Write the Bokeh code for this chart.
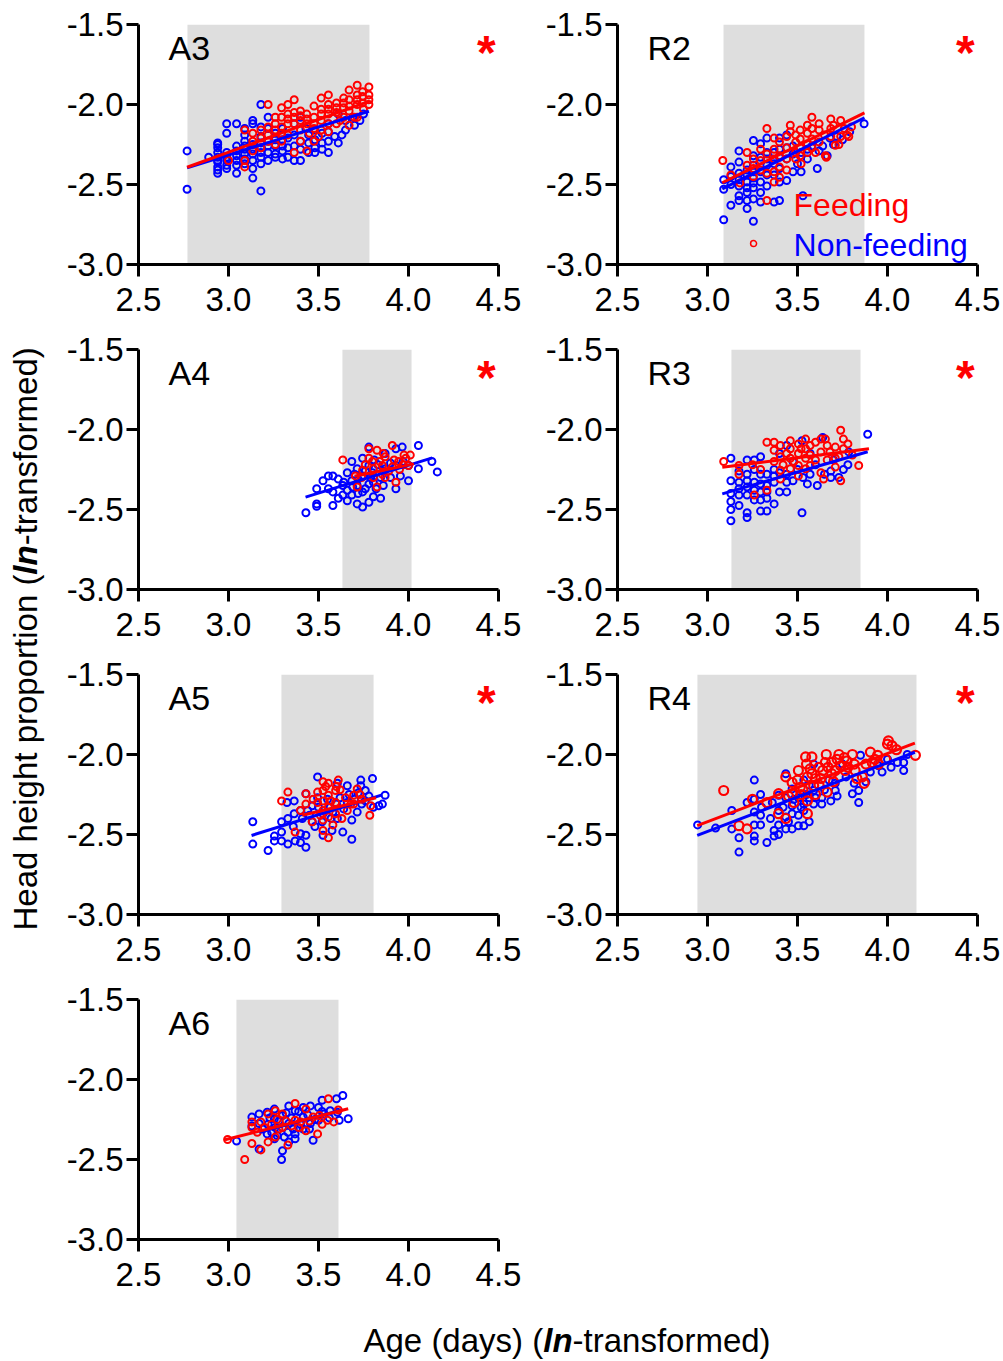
from bokeh.plotting import figure
from bokeh.models import Range1d, Label, FixedTicker, Spacer
from bokeh.layouts import row, column
from bokeh.embed import file_html
from bokeh.resources import INLINE

# ---------------- data ----------------
X_TICKS = [2.5, 3.0, 3.5, 4.0, 4.5]
X_TICK_LABELS = ["2.5", "3.0", "3.5", "4.0", "4.5"]
Y_TICKS = [-3.0, -2.5, -2.0, -1.5]
Y_TICK_LABELS = ["-3.0", "-2.5", "-2.0", "-1.5"]

PANELS = ["A3", "R2", "A4", "R3", "A5", "R4", "A6"]
SIGNIFICANT = [True, True, True, True, True, True, False]

# shaded age window (ln days) per panel
SHADE_A3 = [2.772, 3.783]
SHADE_R2 = [3.089, 3.872]
SHADE_A4 = [3.633, 4.017]
SHADE_R3 = [3.133, 3.850]
SHADE_A5 = [3.294, 3.806]
SHADE_R4 = [2.944, 4.161]
SHADE_A6 = [3.044, 3.611]

# regression lines (x ends, y ends)
A3_FEED_LINE_X, A3_FEED_LINE_Y = [2.77, 3.78], [-2.392, -1.980]
A3_NON_LINE_X, A3_NON_LINE_Y = [2.77, 3.78], [-2.396, -2.042]
R2_FEED_LINE_X, R2_FEED_LINE_Y = [3.082, 3.872], [-2.489, -2.052]
R2_NON_LINE_X, R2_NON_LINE_Y = [3.082, 3.872], [-2.527, -2.083]
A4_FEED_LINE_X, A4_FEED_LINE_Y = [3.70, 4.03], [-2.292, -2.215]
A4_NON_LINE_X, A4_NON_LINE_Y = [3.428, 4.132], [-2.423, -2.177]
R3_FEED_LINE_X, R3_FEED_LINE_Y = [3.082, 3.897], [-2.236, -2.121]
R3_NON_LINE_X, R3_NON_LINE_Y = [3.082, 3.890], [-2.402, -2.139]
A5_FEED_LINE_X, A5_FEED_LINE_Y = [3.41, 3.82], [-2.380, -2.270]
A5_NON_LINE_X, A5_NON_LINE_Y = [3.128, 3.854], [-2.506, -2.252]
R4_FEED_LINE_X, R4_FEED_LINE_Y = [2.943, 4.152], [-2.444, -1.929]
R4_NON_LINE_X, R4_NON_LINE_Y = [2.943, 4.152], [-2.506, -1.986]
A6_FEED_LINE_X, A6_FEED_LINE_Y = [2.98, 3.665], [-2.377, -2.183]
A6_NON_LINE_X, A6_NON_LINE_Y = [3.17, 3.63], [-2.330, -2.190]

# individual observations (ln age, ln head height proportion)
A3_NON = [(2.77,-2.29),(2.77,-2.53),(2.89,-2.33),(2.94,-2.24),(2.94,-2.27),(2.94,-2.30),(2.94,-2.33),(2.94,-2.36),(2.94,-2.39),(2.94,-2.41),(2.94,-2.43),
          (2.99,-2.12),(2.99,-2.18),(2.99,-2.30),(2.99,-2.35),(2.99,-2.38),(2.99,-2.40),(3.045,-2.12),(3.045,-2.32),(3.045,-2.35),(3.045,-2.38),(3.045,-2.43),
          (3.09,-2.15),(3.09,-2.19),(3.09,-2.23),(3.09,-2.26),(3.09,-2.31),(3.09,-2.34),(3.09,-2.37),(3.135,-2.10),(3.135,-2.12),(3.135,-2.28),(3.135,-2.31),
          (3.135,-2.35),(3.135,-2.40),(3.135,-2.46),(3.18,-2.00),(3.18,-2.14),(3.18,-2.20),(3.18,-2.27),(3.18,-2.33),(3.18,-2.37),(3.18,-2.54),(3.22,-2.08),
          (3.22,-2.15),(3.22,-2.23),(3.22,-2.30),(3.22,-2.35),(3.26,-2.18),(3.26,-2.26),(3.26,-2.31),(3.26,-2.33),(3.30,-2.15),(3.30,-2.22),(3.30,-2.29),
          (3.30,-2.34),(3.33,-2.27),(3.33,-2.33),(3.365,-2.19),(3.365,-2.35),(3.40,-2.08),(3.40,-2.23),(3.40,-2.35),(3.445,-2.24),(3.445,-2.30),(3.48,-2.16),
          (3.48,-2.22),(3.48,-2.27),(3.52,-2.18),(3.52,-2.24),(3.555,-2.12),(3.555,-2.17),(3.555,-2.23),(3.555,-2.30),(3.61,-2.06),(3.61,-2.24),(3.65,-2.10),
          (3.65,-2.16),(3.69,-2.08),(3.73,-2.10),
          (2.94,-2.25),(2.94,-2.35),(2.99,-2.33),(3.045,-2.29),(3.045,-2.26),(3.09,-2.28),(3.135,-2.25),(3.18,-2.30),(3.18,-2.24),(3.22,-2.26),(3.26,-2.22),
          (3.30,-2.26),(3.33,-2.21),(3.365,-2.26),(3.40,-2.28),(3.445,-2.19),(3.48,-2.30),(3.52,-2.28),(3.59,-2.20),(3.63,-2.19),(3.70,-2.13),(3.75,-2.06),
          (3.365,-2.12),(3.43,-2.15)]
A3_FEED = [(3.00,-2.35),(3.09,-2.16),(3.09,-2.35),(3.09,-2.39),(3.135,-2.18),(3.135,-2.23),(3.135,-2.29),(3.18,-2.16),(3.18,-2.21),(3.18,-2.27),(3.22,-2.00),
           (3.22,-2.14),(3.22,-2.19),(3.22,-2.23),(3.26,-2.08),(3.26,-2.12),(3.26,-2.16),(3.26,-2.21),(3.295,-2.02),(3.295,-2.08),(3.295,-2.14),(3.295,-2.23),
           (3.33,-2.00),(3.33,-2.06),(3.33,-2.12),(3.33,-2.19),(3.365,-1.97),(3.365,-2.05),(3.365,-2.12),(3.365,-2.30),(3.40,-2.04),(3.40,-2.10),(3.40,-2.16),
           (3.40,-2.23),(3.435,-2.06),(3.435,-2.12),(3.435,-2.29),(3.475,-2.01),(3.475,-2.08),(3.475,-2.15),(3.475,-2.23),(3.515,-1.96),(3.515,-2.03),
           (3.515,-2.10),(3.515,-2.16),(3.555,-1.94),(3.555,-2.00),(3.555,-2.06),(3.555,-2.12),(3.555,-2.17),(3.60,-1.99),(3.60,-2.05),(3.60,-2.12),
           (3.64,-1.96),(3.64,-2.02),(3.64,-2.08),(3.67,-1.91),(3.67,-1.97),(3.67,-2.04),(3.67,-2.13),(3.715,-1.88),(3.715,-1.94),(3.715,-2.00),(3.715,-2.08),
           (3.745,-1.92),(3.745,-1.99),(3.78,-1.89),(3.78,-1.94),(3.78,-1.97),
           (3.26,-2.25),(3.295,-2.18),(3.33,-2.09),(3.365,-2.08),(3.40,-2.07),(3.435,-2.09),(3.475,-2.12),(3.515,-2.06),(3.555,-2.03),(3.60,-2.02),(3.64,-1.99),
           (3.67,-2.01),(3.715,-1.97),(3.745,-1.95),(3.78,-2.00),(3.75,-2.03),(3.70,-2.08),(3.62,-2.10),(3.50,-2.20),(3.45,-2.18)]

R2_NON = [(3.09,-2.53),(3.09,-2.72),(3.13,-2.39),(3.13,-2.63),(3.13,-2.50),(3.175,-2.29),(3.175,-2.36),(3.175,-2.43),(3.175,-2.51),(3.175,-2.57),(3.175,-2.60),
          (3.22,-2.41),(3.22,-2.485),(3.22,-2.55),(3.22,-2.60),(3.22,-2.65),(3.255,-2.225),(3.255,-2.32),(3.255,-2.38),(3.255,-2.46),(3.255,-2.52),(3.255,-2.59),
          (3.255,-2.73),(3.295,-2.245),(3.295,-2.485),(3.295,-2.55),(3.295,-2.61),(3.33,-2.21),(3.33,-2.30),(3.33,-2.38),(3.33,-2.44),(3.33,-2.51),(3.37,-2.44),
          (3.37,-2.61),(3.40,-2.21),(3.40,-2.28),(3.40,-2.40),(3.40,-2.485),(3.40,-2.60),(3.44,-2.19),(3.44,-2.34),(3.44,-2.475),(3.475,-2.26),(3.475,-2.42),
          (3.50,-2.37),(3.52,-2.42),(3.53,-2.57),(3.555,-2.28),(3.555,-2.34),(3.61,-2.40),(3.64,-2.26),(3.665,-2.32),(3.68,-2.21),(3.72,-2.20),(3.79,-2.17),(3.87,-2.12),
          (3.175,-2.47),(3.22,-2.44),(3.22,-2.52),(3.255,-2.42),(3.255,-2.49),(3.295,-2.33),(3.295,-2.42),(3.33,-2.34),(3.37,-2.30),(3.37,-2.37),(3.40,-2.33),
          (3.44,-2.27),(3.475,-2.31),(3.52,-2.30),(3.58,-2.26),(3.62,-2.29),(3.70,-2.25),(3.75,-2.22),(3.13,-2.45),(3.09,-2.47)]
R2_FEED = [(3.085,-2.35),(3.18,-2.49),(3.22,-2.30),(3.22,-2.38),(3.255,-2.34),(3.255,-2.40),(3.295,-2.28),(3.295,-2.35),(3.295,-2.41),(3.33,-2.15),(3.33,-2.60),
           (3.37,-2.21),(3.37,-2.28),(3.37,-2.34),(3.37,-2.42),(3.37,-2.485),(3.40,-2.235),(3.40,-2.32),(3.40,-2.39),(3.40,-2.455),(3.44,-2.20),(3.44,-2.27),
           (3.44,-2.34),(3.46,-2.13),(3.46,-2.17),(3.49,-2.235),(3.49,-2.30),(3.49,-2.34),(3.515,-2.16),(3.515,-2.215),(3.515,-2.27),(3.515,-2.32),(3.555,-2.13),
           (3.555,-2.18),(3.555,-2.245),(3.555,-2.30),(3.58,-2.08),(3.58,-2.15),(3.58,-2.215),(3.62,-2.16),(3.62,-2.235),(3.655,-2.32),(3.685,-2.09),(3.685,-2.15),
           (3.685,-2.20),(3.71,-2.255),(3.74,-2.10),(3.74,-2.20),(3.73,-2.25),(3.775,-2.19),(3.785,-2.20),(3.66,-2.33),
           (3.255,-2.45),(3.33,-2.31),(3.33,-2.43),(3.44,-2.41),(3.49,-2.19),(3.52,-2.37),(3.58,-2.27),(3.62,-2.12),(3.65,-2.19),(3.70,-2.13),(3.76,-2.15),
           (3.80,-2.14),(3.60,-2.30),(3.13,-2.44)]

A4_NON = [(3.43,-2.52),(3.49,-2.465),(3.49,-2.48),(3.49,-2.37),(3.525,-2.32),(3.555,-2.37),(3.555,-2.29),(3.58,-2.475),(3.58,-2.29),(3.58,-2.39),(3.61,-2.31),
          (3.61,-2.43),(3.635,-2.35),(3.635,-2.41),(3.66,-2.445),(3.66,-2.27),(3.66,-2.38),(3.685,-2.20),(3.685,-2.32),(3.685,-2.41),(3.715,-2.245),(3.715,-2.35),
          (3.715,-2.465),(3.745,-2.18),(3.745,-2.29),(3.745,-2.39),(3.745,-2.485),(3.78,-2.11),(3.78,-2.225),(3.78,-2.34),(3.78,-2.455),(3.805,-2.33),(3.805,-2.42),
          (3.845,-2.43),(3.845,-2.30),(3.87,-2.15),(3.87,-2.245),(3.93,-2.12),(3.93,-2.37),(3.93,-2.225),(3.965,-2.11),(3.955,-2.29),(4.00,-2.32),(4.00,-2.225),
          (4.055,-2.10),(4.055,-2.245),(4.13,-2.20),(4.16,-2.265),(3.70,-2.28),(3.72,-2.40),(3.76,-2.26),(3.76,-2.37),(3.80,-2.27),(3.82,-2.37),(3.83,-2.22),
          (3.86,-2.35),(3.90,-2.30),(3.90,-2.21),(3.64,-2.33),(3.69,-2.36),(3.72,-2.31),(3.79,-2.30),(3.81,-2.19),(3.86,-2.26),(3.97,-2.20)]
A4_FEED = [(3.635,-2.19),(3.705,-2.29),(3.715,-2.36),(3.745,-2.255),(3.78,-2.12),(3.78,-2.18),(3.805,-2.245),(3.805,-2.30),(3.825,-2.13),(3.825,-2.36),
           (3.855,-2.225),(3.855,-2.28),(3.87,-2.17),(3.87,-2.30),(3.91,-2.10),(3.91,-2.235),(3.945,-2.20),(3.93,-2.33),(3.975,-2.16),(3.985,-2.18),(4.00,-2.225),
           (4.01,-2.16),(3.76,-2.22),(3.84,-2.20),(3.89,-2.26),(3.95,-2.25),(3.80,-2.20),(3.86,-2.15),(3.92,-2.19),(3.97,-2.22),(3.74,-2.30)]

R3_NON = [(3.13,-2.18),(3.13,-2.32),(3.13,-2.40),(3.13,-2.50),(3.13,-2.57),(3.175,-2.26),(3.175,-2.33),(3.175,-2.41),(3.175,-2.475),(3.22,-2.19),(3.22,-2.28),
          (3.22,-2.36),(3.22,-2.41),(3.22,-2.52),(3.22,-2.55),(3.26,-2.19),(3.26,-2.25),(3.26,-2.33),(3.26,-2.44),(3.295,-2.17),(3.295,-2.28),(3.295,-2.34),
          (3.295,-2.39),(3.295,-2.44),(3.295,-2.51),(3.33,-2.28),(3.33,-2.35),(3.33,-2.43),(3.33,-2.51),(3.37,-2.25),(3.37,-2.33),(3.37,-2.465),(3.40,-2.15),
          (3.40,-2.39),(3.44,-2.10),(3.44,-2.28),(3.44,-2.39),(3.475,-2.20),(3.475,-2.32),(3.525,-2.07),(3.525,-2.52),(3.57,-2.15),(3.57,-2.28),(3.555,-2.34),
          (3.61,-2.35),(3.64,-2.05),(3.685,-2.26),(3.685,-2.30),(3.73,-2.30),(3.755,-2.25),(3.785,-2.14),(3.89,-2.03),
          (3.13,-2.45),(3.175,-2.37),(3.22,-2.32),(3.26,-2.38),(3.33,-2.39),(3.37,-2.29),(3.40,-2.27),(3.44,-2.33),(3.50,-2.25),(3.53,-2.30),(3.60,-2.22),
          (3.65,-2.28),(3.70,-2.19),(3.78,-2.22)]
R3_FEED = [(3.09,-2.20),(3.175,-2.225),(3.175,-2.28),(3.26,-2.41),(3.33,-2.08),(3.33,-2.38),(3.295,-2.25),(3.37,-2.08),(3.37,-2.13),(3.37,-2.20),(3.405,-2.10),
           (3.405,-2.17),(3.405,-2.255),(3.405,-2.31),(3.46,-2.07),(3.46,-2.12),(3.46,-2.18),(3.46,-2.245),(3.505,-2.09),(3.505,-2.15),(3.505,-2.225),(3.505,-2.29),
           (3.545,-2.06),(3.545,-2.12),(3.545,-2.18),(3.545,-2.245),(3.57,-2.10),(3.57,-2.16),(3.57,-2.225),(3.63,-2.06),(3.63,-2.14),(3.63,-2.27),(3.655,-2.06),
           (3.665,-2.10),(3.665,-2.19),(3.645,-2.31),(3.71,-2.11),(3.71,-2.18),(3.71,-2.235),(3.74,-2.005),(3.74,-2.32),(3.755,-2.06),(3.755,-2.12),(3.805,-2.16),
           (3.84,-2.225),(3.44,-2.15),(3.48,-2.20),(3.52,-2.12),(3.60,-2.19),(3.60,-2.08),(3.68,-2.14),(3.73,-2.17),(3.78,-2.09),(3.42,-2.22),(3.25,-2.22)]

A5_NON = [(3.135,-2.42),(3.135,-2.56),(3.22,-2.60),(3.255,-2.51),(3.255,-2.54),(3.295,-2.42),(3.295,-2.485),(3.295,-2.54),(3.325,-2.30),(3.33,-2.40),(3.33,-2.56),
          (3.365,-2.29),(3.365,-2.37),(3.37,-2.54),(3.40,-2.35),(3.40,-2.495),(3.40,-2.55),(3.43,-2.245),(3.43,-2.505),(3.43,-2.58),(3.465,-2.32),(3.465,-2.42),
          (3.495,-2.14),(3.495,-2.27),(3.525,-2.37),(3.525,-2.505),(3.565,-2.33),(3.575,-2.475),(3.605,-2.18),(3.605,-2.40),(3.635,-2.485),(3.66,-2.195),(3.66,-2.30),
          (3.685,-2.53),(3.685,-2.41),(3.715,-2.36),(3.735,-2.16),(3.735,-2.195),(3.76,-2.225),(3.76,-2.29),(3.80,-2.15),(3.805,-2.33),(3.835,-2.32),(3.87,-2.255),
          (3.855,-2.31),(3.45,-2.38),(3.50,-2.33),(3.55,-2.28),(3.58,-2.36),(3.62,-2.27),(3.64,-2.34),(3.70,-2.28),(3.74,-2.31),(3.78,-2.26),(3.48,-2.45),
          (3.36,-2.45),(3.41,-2.40),(3.52,-2.42),(3.57,-2.40),(3.60,-2.31),(3.67,-2.25),(3.72,-2.24),(3.44,-2.35)]
A5_FEED = [(3.295,-2.29),(3.33,-2.235),(3.37,-2.485),(3.40,-2.35),(3.43,-2.245),(3.43,-2.31),(3.465,-2.42),(3.495,-2.235),(3.495,-2.30),(3.525,-2.17),(3.525,-2.225),
           (3.525,-2.29),(3.525,-2.35),(3.525,-2.41),(3.525,-2.475),(3.555,-2.52),(3.555,-2.18),(3.555,-2.255),(3.555,-2.33),(3.555,-2.39),(3.595,-2.225),(3.595,-2.30),
           (3.595,-2.37),(3.61,-2.16),(3.63,-2.40),(3.65,-2.27),(3.66,-2.35),(3.695,-2.255),(3.695,-2.31),(3.715,-2.215),(3.785,-2.38),(3.79,-2.32),(3.47,-2.28),
           (3.58,-2.44),(3.62,-2.22),(3.74,-2.28),(3.54,-2.20),(3.51,-2.38),(3.57,-2.29),(3.60,-2.20),(3.68,-2.31),(3.73,-2.25)]

R4_NON = [(2.945,-2.44),(3.045,-2.46),(3.135,-2.35),(3.135,-2.465),(3.175,-2.52),(3.175,-2.61),(3.22,-2.30),(3.26,-2.16),(3.26,-2.28),(3.26,-2.36),(3.26,-2.44),
          (3.26,-2.51),(3.26,-2.54),(3.295,-2.25),(3.295,-2.38),(3.295,-2.44),(3.33,-2.55),(3.36,-2.30),(3.37,-2.475),(3.37,-2.51),(3.395,-2.255),(3.395,-2.35),
          (3.395,-2.44),(3.395,-2.50),(3.435,-2.12),(3.435,-2.27),(3.435,-2.39),(3.435,-2.465),(3.47,-2.215),(3.47,-2.32),(3.47,-2.37),(3.47,-2.465),(3.505,-2.27),
          (3.505,-2.38),(3.505,-2.445),(3.535,-2.16),(3.535,-2.31),(3.535,-2.35),(3.535,-2.445),(3.565,-2.19),(3.565,-2.27),(3.565,-2.42),(3.59,-2.06),(3.59,-2.225),
          (3.59,-2.31),(3.635,-2.27),(3.635,-2.31),(3.675,-2.16),(3.685,-2.29),(3.71,-2.18),(3.71,-2.225),(3.75,-2.06),(3.805,-2.245),(3.815,-2.18),(3.84,-2.225),
          (3.84,-2.30),(3.85,-2.005),(3.905,-2.11),(3.97,-2.11),(4.00,-2.03),(4.055,-2.05),(4.09,-2.05),(4.09,-2.10),(4.11,-2.00),
          (3.30,-2.33),(3.35,-2.40),(3.42,-2.33),(3.45,-2.42),(3.48,-2.28),(3.52,-2.33),(3.55,-2.25),(3.60,-2.27),(3.65,-2.22),(3.72,-2.26),(3.77,-2.14),
          (3.88,-2.17),(3.95,-2.07),(4.02,-2.08)]
R4_FEED = [(3.09,-2.225),(3.175,-2.445),(3.22,-2.465),(3.25,-2.28),(3.33,-2.30),(3.395,-2.245),(3.395,-2.37),(3.435,-2.14),(3.435,-2.40),(3.47,-2.175),(3.47,-2.245),
           (3.505,-2.10),(3.515,-2.205),(3.545,-2.015),(3.555,-2.14),(3.555,-2.29),(3.555,-2.37),(3.58,-2.015),(3.58,-2.12),(3.59,-2.195),(3.62,-2.08),(3.63,-2.15),
           (3.655,-2.05),(3.665,-2.235),(3.69,-2.05),(3.69,-2.12),(3.73,-2.00),(3.74,-2.07),(3.765,-2.10),(3.775,-2.04),(3.805,-2.00),(3.815,-2.06),(3.83,-2.15),
           (3.86,-2.14),(3.87,-2.18),(3.905,-1.985),(3.915,-2.05),(3.945,-2.005),(3.95,-2.06),(4.00,-1.935),(4.005,-1.915),(4.025,-1.945),(3.99,-2.03),(4.155,-2.005),
           (3.48,-2.30),(3.52,-2.25),(3.60,-2.25),(3.64,-2.10),(3.70,-2.17),(3.72,-2.03),(3.55,-2.06),(3.62,-2.19),(3.78,-2.08),(3.66,-2.00),
           (3.50,-2.16),(3.53,-2.22),(3.57,-2.09),(3.60,-2.15),(3.67,-2.08),(3.71,-2.10),(3.76,-2.02),(3.82,-2.10),(3.88,-2.06),(3.93,-2.03),(4.05,-1.97),(3.45,-2.26)]

A6_NON = [(3.045,-2.385),(3.13,-2.235),(3.13,-2.29),(3.17,-2.215),(3.17,-2.275),(3.17,-2.435),(3.215,-2.205),(3.215,-2.34),(3.255,-2.185),(3.255,-2.245),(3.255,-2.37),
          (3.30,-2.225),(3.30,-2.445),(3.295,-2.50),(3.335,-2.165),(3.335,-2.275),(3.335,-2.39),(3.37,-2.195),(3.37,-2.34),(3.37,-2.37),(3.415,-2.175),(3.415,-2.235),
          (3.415,-2.31),(3.455,-2.165),(3.455,-2.275),(3.47,-2.38),(3.50,-2.175),(3.50,-2.255),(3.52,-2.13),(3.53,-2.215),(3.565,-2.195),(3.60,-2.12),(3.615,-2.255),
          (3.605,-2.205),(3.635,-2.10),(3.665,-2.245),(3.22,-2.28),(3.26,-2.30),(3.30,-2.30),(3.33,-2.33),(3.28,-2.26),(3.35,-2.24),(3.40,-2.28),(3.44,-2.22),
          (3.24,-2.33),(3.31,-2.36),(3.19,-2.31),(3.48,-2.25),(3.23,-2.24),(3.27,-2.35),(3.32,-2.21),(3.36,-2.31),(3.39,-2.20),(3.45,-2.31),(3.52,-2.20),(3.56,-2.24)]
A6_FEED = [(2.995,-2.375),(3.09,-2.50),(3.13,-2.265),(3.13,-2.30),(3.13,-2.40),(3.18,-2.265),(3.18,-2.44),(3.22,-2.215),(3.22,-2.39),(3.26,-2.195),(3.26,-2.36),
           (3.30,-2.215),(3.30,-2.30),(3.33,-2.41),(3.37,-2.15),(3.37,-2.255),(3.40,-2.265),(3.43,-2.185),(3.43,-2.32),(3.47,-2.235),(3.495,-2.34),(3.505,-2.225),
           (3.55,-2.255),(3.585,-2.265),(3.555,-2.12),(3.61,-2.19),(3.24,-2.28),(3.28,-2.31),(3.20,-2.30),(3.35,-2.29),(3.27,-2.25),(3.32,-2.26),(3.39,-2.30),
           (3.45,-2.26),(3.52,-2.28),(3.16,-2.33)]

LEGEND_LABELS = ["Feeding", "Non-feeding"]
Y_LABEL_PARTS = ["Head height proportion (", "ln", "-transformed)"]
X_LABEL_PARTS = ["Age (days) (", "ln", "-transformed)"]

# ---------------- style ----------------
FONT = "Liberation Sans"
RED = "#ff0000"
BLUE = "#0000ff"
GREY = "#dedede"
TICK_FS = 33
LAB_FS = 33
FRAME_H = 240
BOTTOM = 64
TOP_FIRST = 24
TOP_OTHER = 21


def style_axes(p):
    for ax in (p.xaxis[0], p.yaxis[0]):
        ax.axis_line_width = 3
        ax.axis_line_color = "black"
        ax.major_tick_line_width = 3
        ax.major_tick_line_color = "black"
        ax.major_tick_out = 12
        ax.major_tick_in = 0
        ax.minor_tick_line_color = None
        ax.major_label_text_font = FONT
        ax.major_label_text_font_size = f"{TICK_FS}px"
        ax.major_label_text_color = "black"
    p.xaxis[0].major_label_standoff = 11
    p.yaxis[0].major_label_standoff = 3
    p.xaxis[0].ticker = FixedTicker(ticks=X_TICKS)
    p.yaxis[0].ticker = FixedTicker(ticks=Y_TICKS)
    p.xaxis[0].major_label_overrides = dict(zip(X_TICKS, X_TICK_LABELS))
    p.yaxis[0].major_label_overrides = dict(zip(Y_TICKS, Y_TICK_LABELS))


def make_panel(name, col, first_row, shade, non, feed, non_line, feed_line, star,
               non_size=7, feed_size=7, feed_lw=2.0):
    w = 479 if col == 0 else 463
    top = TOP_FIRST if first_row else TOP_OTHER
    p = figure(width=w, height=FRAME_H + top + BOTTOM, x_range=Range1d(X_TICKS[0], X_TICKS[-1]),
               y_range=Range1d(Y_TICKS[0], Y_TICKS[-1]),
               output_backend="svg", toolbar_location=None,
               min_border_left=80, min_border_right=(39 if col == 0 else 23),
               min_border_top=top, min_border_bottom=BOTTOM)
    p.xgrid.visible = False
    p.ygrid.visible = False
    p.outline_line_color = None
    p.background_fill_color = "white"
    p.border_fill_color = "white"
    style_axes(p)

    p.quad(left=[shade[0]], right=[shade[1]], bottom=[Y_TICKS[0]], top=[Y_TICKS[-1]],
           fill_color=GREY, line_color=None)

    nx, ny = zip(*non)
    fx, fy = zip(*feed)
    p.scatter(list(nx), list(ny), marker="circle", size=non_size, fill_color=None,
              line_color=BLUE, line_width=2.0)
    p.scatter(list(fx), list(fy), marker="circle", size=feed_size, fill_color=None,
              line_color=RED, line_width=feed_lw)
    p.line(non_line[0], non_line[1], line_color=BLUE, line_width=3)
    p.line(feed_line[0], feed_line[1], line_color=RED, line_width=3)

    p.add_layout(Label(x=2.667, y=-1.644, text=name, text_font=FONT,
                       text_font_size="34px", text_color="black",
                       text_baseline="middle", text_align="left"))
    if star:
        p.add_layout(Label(x=4.433, y=-1.672, text="*", text_font=FONT,
                           text_font_size="48px", text_font_style="bold",
                           text_color=RED, text_align="center",
                           text_baseline="middle"))
    return p


pA3 = make_panel("A3", 0, True, SHADE_A3, A3_NON, A3_FEED, (A3_NON_LINE_X, A3_NON_LINE_Y),
                 (A3_FEED_LINE_X, A3_FEED_LINE_Y), SIGNIFICANT[0])
pR2 = make_panel("R2", 1, True, SHADE_R2, R2_NON, R2_FEED, (R2_NON_LINE_X, R2_NON_LINE_Y),
                 (R2_FEED_LINE_X, R2_FEED_LINE_Y), SIGNIFICANT[1])
pA4 = make_panel("A4", 0, False, SHADE_A4, A4_NON, A4_FEED, (A4_NON_LINE_X, A4_NON_LINE_Y),
                 (A4_FEED_LINE_X, A4_FEED_LINE_Y), SIGNIFICANT[2])
pR3 = make_panel("R3", 1, False, SHADE_R3, R3_NON, R3_FEED, (R3_NON_LINE_X, R3_NON_LINE_Y),
                 (R3_FEED_LINE_X, R3_FEED_LINE_Y), SIGNIFICANT[3])
pA5 = make_panel("A5", 0, False, SHADE_A5, A5_NON, A5_FEED, (A5_NON_LINE_X, A5_NON_LINE_Y),
                 (A5_FEED_LINE_X, A5_FEED_LINE_Y), SIGNIFICANT[4])
pR4 = make_panel("R4", 1, False, SHADE_R4, R4_NON, R4_FEED, (R4_NON_LINE_X, R4_NON_LINE_Y),
                 (R4_FEED_LINE_X, R4_FEED_LINE_Y), SIGNIFICANT[5],
                 feed_size=9, feed_lw=2.2)
pA6 = make_panel("A6", 0, False, SHADE_A6, A6_NON, A6_FEED, (A6_NON_LINE_X, A6_NON_LINE_Y),
                 (A6_FEED_LINE_X, A6_FEED_LINE_Y), SIGNIFICANT[6])

# legend inside R2
pR2.scatter([3.256], [-2.869], marker="circle", size=6, fill_color=None,
            line_color=RED, line_width=1.5)
pR2.add_layout(Label(x=3.478, y=-2.631, text=LEGEND_LABELS[0], text_font=FONT,
                     text_font_size="32px", text_color=RED, text_baseline="middle"))
pR2.add_layout(Label(x=3.478, y=-2.878, text=LEGEND_LABELS[1], text_font=FONT,
                     text_font_size="32px", text_color=BLUE, text_baseline="middle"))

# ---------------- shared axis titles ----------------
EM_WIDTHS_Y = [10.783, 0.889, 6.001]
EM_WIDTHS_X = [5.446, 0.889, 6.001]
STYLES = ["normal", "bold italic", "normal"]
TOTAL_H = (FRAME_H + TOP_FIRST + BOTTOM) + 3 * (FRAME_H + TOP_OTHER + BOTTOM)

ylab = figure(width=58, height=TOTAL_H, x_range=Range1d(0, 58), y_range=Range1d(0, TOTAL_H),
              output_backend="svg", toolbar_location=None, x_axis_type=None,
              y_axis_type=None, min_border_left=0, min_border_right=0,
              min_border_top=0, min_border_bottom=0)
ylab.outline_line_color = None
pos = TOTAL_H - 930
for txt, emw, st in zip(Y_LABEL_PARTS, EM_WIDTHS_Y, STYLES):
    ylab.add_layout(Label(x=25, y=pos, text=txt, angle=1.5707963, text_font=FONT,
                          text_font_size=f"{LAB_FS}px", text_font_style=st,
                          text_color="black", text_align="left", text_baseline="middle"))
    pos += emw * LAB_FS

XLAB_H = 1361 - TOTAL_H
xlab = figure(width=1000, height=XLAB_H, x_range=Range1d(0, 1000), y_range=Range1d(0, XLAB_H),
              output_backend="svg", toolbar_location=None, x_axis_type=None,
              y_axis_type=None, min_border_left=0, min_border_right=0,
              min_border_top=0, min_border_bottom=0)
xlab.outline_line_color = None
posx = 363
for txt, emw, st in zip(X_LABEL_PARTS, EM_WIDTHS_X, STYLES):
    xlab.add_layout(Label(x=posx, y=1361 - 1340, text=txt, text_font=FONT,
                          text_font_size=f"{LAB_FS}px", text_font_style=st,
                          text_color="black", text_align="left", text_baseline="middle"))
    posx += emw * LAB_FS

grid = column(row(pA3, pR2), row(pA4, pR3), row(pA5, pR4),
              row(pA6, Spacer(width=463, height=FRAME_H + TOP_OTHER + BOTTOM)))
layout = column(row(ylab, grid), xlab)

open("out.html", "w").write(file_html(layout, INLINE))
